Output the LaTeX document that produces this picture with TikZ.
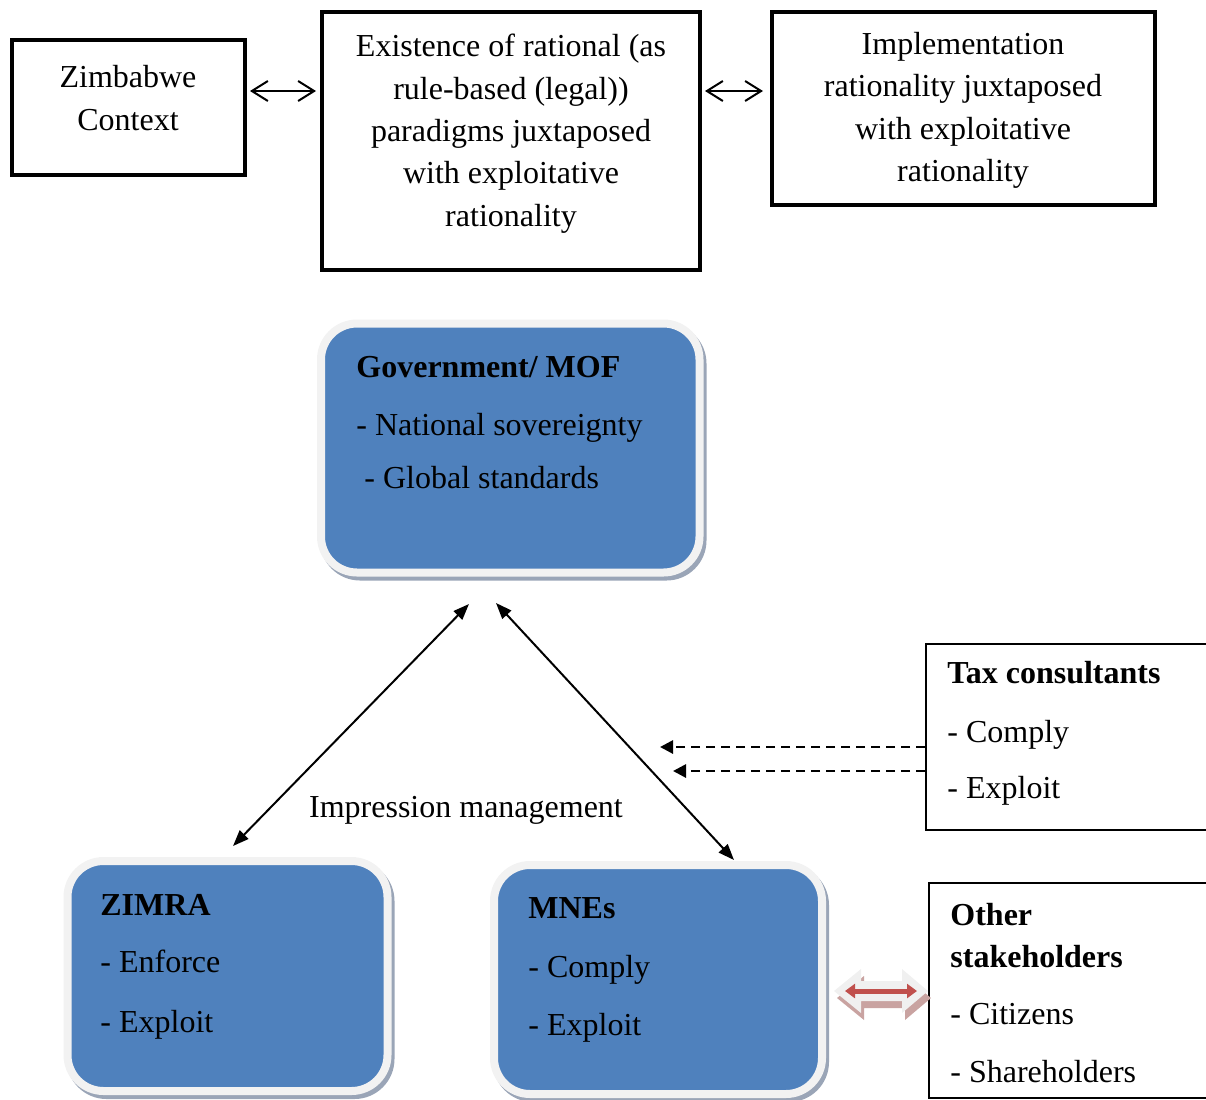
\documentclass[tikz,border=0pt]{standalone}
\usepackage{fontspec}
\setmainfont{Liberation Serif}
\usetikzlibrary{arrows.meta}
\definecolor{boxblue}{HTML}{4F81BD}
\definecolor{ringc}{HTML}{F2F2F2}
\definecolor{shadc}{HTML}{9AA5B7}
\definecolor{redc}{HTML}{C0504D}
\definecolor{rshad}{HTML}{C9A3A1}
\definecolor{lightc}{HTML}{F0F0F0}
\begin{document}
\begin{tikzpicture}[x=0.5pt,y=-0.5pt,
  font=\fontsize{16}{19}\selectfont,
  heavy/.style={draw, line width=2pt, inner sep=0pt},
  thinbox/.style={draw, line width=0.9pt, inner sep=0pt},
  t/.style={anchor=base, inner sep=0pt},
  tl/.style={anchor=base west, inner sep=0pt},
  hd/.style={anchor=base west, inner sep=0pt, font=\fontsize{16}{19}\selectfont\bfseries},
  rbox/.style={fill=boxblue, draw=ringc, line width=4pt, rounded corners=18pt, inner sep=0pt,
    preaction={draw=shadc, fill=shadc, line width=4pt, transform canvas={shift={(1.5pt,-2pt)}}}},
  barb/.style={line width=1pt, {Straight Barb[length=8pt,width=10pt]}-{Straight Barb[length=8pt,width=10pt]}},
  diag/.style={line width=1pt, {Triangle[length=8pt,width=6pt]}-{Triangle[length=8pt,width=6pt]}},
  dasharrow/.style={line width=1.4pt, dash pattern=on 4.5pt off 3pt, -{Triangle[length=6.5pt,width=6.5pt]}}
]
\path[use as bounding box] (0,0) rectangle (1206,1099);
\clip (0,0) rectangle (1206,1099);

% top row
\node[heavy, minimum width=116.5pt, minimum height=67.5pt] (zim) at (128.5,107.5) {};
\node[t] (zim1) at (128,87) {Zimbabwe};
\node[t] (zim2) at (128,130) {Context};

\node[heavy, minimum width=189pt, minimum height=129pt] (ex) at (511,141) {};
\node[t] (ex1) at (511,56) {Existence of rational (as};
\node[t] (ex2) at (511,99) {rule-based (legal))};
\node[t] (ex3) at (511,141) {paradigms juxtaposed};
\node[t] (ex4) at (511,183) {with exploitative};
\node[t] (ex5) at (511,226) {rationality};

\node[heavy, minimum width=191.5pt, minimum height=96.5pt] (im) at (963.5,108.5) {};
\node[t] (im1) at (963,54) {Implementation};
\node[t] (im2) at (963,96) {rationality juxtaposed};
\node[t] (im3) at (963,139) {with exploitative};
\node[t] (im4) at (963,181) {rationality};

\coordinate (ya) at (0,91);
\draw[barb, shorten <=1.5pt, shorten >=2pt] (zim.east |- ya) -- (ex.west |- ya);
\draw[barb, shorten <=1.5pt, shorten >=3.5pt] (ex.east |- ya) -- (im.west |- ya);

% blue boxes
\node[rbox, minimum width=189.25pt, minimum height=124.5pt] (gov) at (510.25,448) {};
\node[hd] (gov1) at (356,377) {Government/ MOF};
\node[tl] (gov2) at (356,435) {- National sovereignty};
\node[tl] (gov3) at (364,488) {- Global standards};

\node[rbox, minimum width=160pt, minimum height=115pt] (zimra) at (227.5,976) {};
\node[hd] (zr1) at (100,915) {ZIMRA};
\node[tl] (zr2) at (100,972) {- Enforce};
\node[tl] (zr3) at (100,1032) {- Exploit};

\node[rbox, minimum width=164pt, minimum height=114.5pt] (mne) at (658,979.5) {};
\node[hd] (mn1) at (528,918) {MNEs};
\node[tl] (mn2) at (528,977) {- Comply};
\node[tl] (mn3) at (528,1035) {- Exploit};

% diagonal arrows
\coordinate (gl) at (469,604);
\coordinate (zt) at (233,846);
\coordinate (gr) at (496,603);
\coordinate (mt) at (734,860);
\draw[diag] (gl) -- (zt);
\draw[diag] (gr) -- (mt);
\node[t] (imp) at (466,817) {Impression management};

% tax consultants
\node[thinbox, minimum width=144.5pt, minimum height=93pt] (tax) at (1070.5,737) {};
\node[hd] (tx1) at (947,683) {Tax consultants};
\node[tl] (tx2) at (947,742) {- Comply};
\node[tl] (tx3) at (947,798) {- Exploit};
\coordinate (d1) at (660,747);
\coordinate (d2) at (673,771);
\draw[dasharrow] (tax.west |- d1) -- (d1);
\draw[dasharrow] (tax.west |- d2) -- (d2);

% other stakeholders
\node[thinbox, minimum width=143pt, minimum height=107.5pt] (oth) at (1072,990.5) {};
\node[hd] (ot1) at (950,925) {Other};
\node[hd] (ot2) at (950,967) {stakeholders};
\node[tl] (ot3) at (950,1024) {- Citizens};
\node[tl] (ot4) at (950,1082) {- Shareholders};

% block double arrow between MNEs and other stakeholders
\begin{scope}[shift={(3,7)}]
\fill[rshad] (834,991) -- (861,969) -- (861,981) -- (902,981) -- (902,969) -- (928,991)
  -- (902,1013) -- (902,1001) -- (861,1001) -- (861,1013) -- cycle;
\end{scope}
\fill[lightc] (834,991) -- (861,969) -- (861,981) -- (902,981) -- (902,969) -- (928,991)
  -- (902,1013) -- (902,1001) -- (861,1001) -- (861,1013) -- cycle;
\coordinate (ra) at (845,991);
\coordinate (rb) at (917,991);
\draw[redc, line width=2.5pt, {Triangle[length=5pt,width=7pt]}-{Triangle[length=5pt,width=7pt]}] (ra) -- (rb);
\end{tikzpicture}
\end{document}
